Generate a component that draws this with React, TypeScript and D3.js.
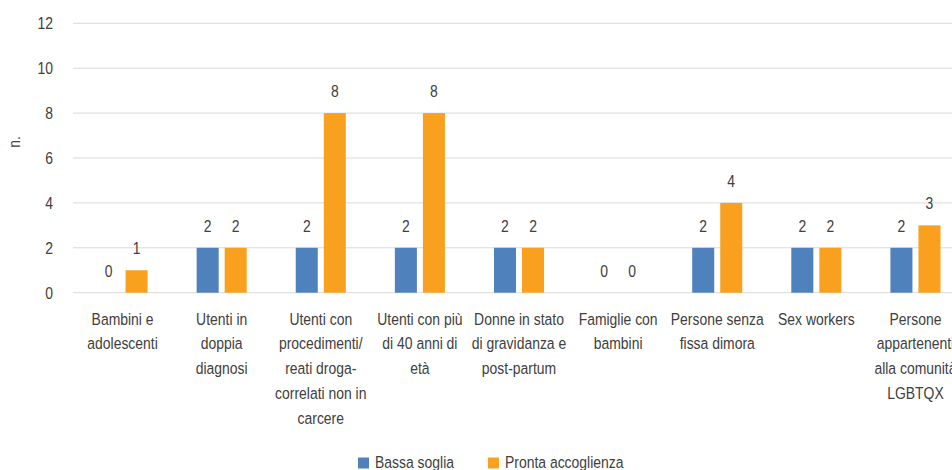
import React from "react";
import * as d3 from "d3";

const categories: string[][] = [
  ["Bambini e", "adolescenti"],
  ["Utenti in", "doppia", "diagnosi"],
  ["Utenti con", "procedimenti/", "reati droga-", "correlati non in", "carcere"],
  ["Utenti con più", "di 40 anni di", "età"],
  ["Donne in stato", "di gravidanza e", "post-partum"],
  ["Famiglie con", "bambini"],
  ["Persone senza", "fissa dimora"],
  ["Sex workers"],
  ["Persone", "appartenenti", "alla comunità", "LGBTQX"],
];
const seriesNames = ["Bassa soglia", "Pronta accoglienza"];
const bassaSoglia = [0, 2, 2, 2, 2, 0, 2, 2, 2];
const prontaAccoglienza = [1, 2, 8, 8, 2, 0, 4, 2, 3];
const yTicks = [0, 2, 4, 6, 8, 10, 12];
const yTitle = "n.";
const colors = ["#4F81BD", "#F9A11E"];

const FONT = "'Liberation Sans', Arial, sans-serif";
const NARROW = 0.82;
const textColor = "#404040";

function NText({
  x,
  y,
  anchor = "start",
  lines,
  lineHeight = 25,
  rotate = 0,
  dy,
}: {
  x: number;
  y: number;
  anchor?: "start" | "middle" | "end";
  lines: (string | number)[];
  lineHeight?: number;
  rotate?: number;
  dy?: string;
}) {
  return (
    <text
      transform={`translate(${x},${y}) rotate(${rotate}) scale(${NARROW},1)`}
      textAnchor={anchor}
      fontSize={17}
      fill={textColor}
      dy={dy}
    >
      {lines.map((l, j) => (
        <tspan key={j} x={0} y={j * lineHeight} dy={dy}>
          {l}
        </tspan>
      ))}
    </text>
  );
}

export default function App() {
  const W = 952;
  const H = 470;
  const left = 73;
  const right = 965;
  const top = 23.3;
  const bottom = 292.7;
  const keys = categories.map((_, i) => String(i));
  const x0 = d3.scaleBand<string>().domain(keys).range([left, right]).padding(0);
  const x1 = d3
    .scaleBand<string>()
    .domain(seriesNames)
    .range([0, x0.bandwidth()])
    .paddingInner(6 / 28)
    .paddingOuter(0.875);
  const y = d3.scaleLinear().domain([0, 12]).range([bottom, top]);
  const series = [bassaSoglia, prontaAccoglienza];

  return (
    <div style={{ position: "absolute", left: 0, top: 0, width: W, height: H, overflow: "hidden", background: "#fff" }}>
      <svg width={W} height={H} style={{ display: "block", fontFamily: FONT }}>
        <rect width={W} height={H} fill="#fff" />
        {yTicks.map((t) => (
          <g key={t}>
            <line x1={left} x2={W + 20} y1={y(t)} y2={y(t)} stroke="#d9d9d9" strokeWidth={1} />
            <NText x={53} y={y(t)} anchor="end" lines={[t]} dy="0.36em" />
          </g>
        ))}
        <NText x={20} y={142} anchor="middle" rotate={-90} lines={[yTitle]} />
        {categories.map((cat, i) => (
          <g key={i} transform={`translate(${x0(String(i))},0)`}>
            {series.map((vals, s) => {
              const v = vals[i];
              const bx = x1(seriesNames[s])!;
              return (
                <g key={s}>
                  {v > 0 && (
                    <rect
                      x={bx}
                      y={y(v)}
                      width={x1.bandwidth()}
                      height={y(0) - y(v)}
                      fill={colors[s]}
                    />
                  )}
                  <NText x={bx + x1.bandwidth() / 2} y={y(v) - 16} anchor="middle" lines={[v]} />
                </g>
              );
            })}
            <NText x={x0.bandwidth() / 2} y={324.5} anchor="middle" lines={cat} />
          </g>
        ))}
        {seriesNames.map((name, s) => {
          const lx = s === 0 ? 358 : 488;
          return (
            <g key={name}>
              <rect x={lx} y={457.5} width={11} height={11} fill={colors[s]} />
              <NText x={lx + 17} y={467.5} lines={[name]} />
            </g>
          );
        })}
      </svg>
    </div>
  );
}
